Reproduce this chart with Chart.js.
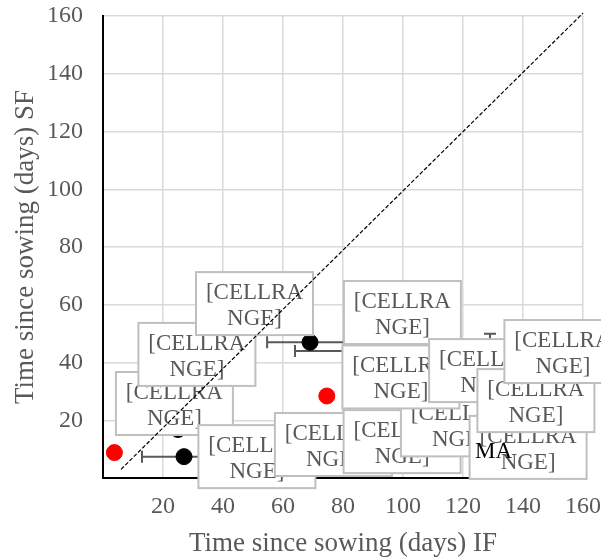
<!DOCTYPE html>
<html>
<head>
<meta charset="utf-8">
<script src="https://cdn.jsdelivr.net/npm/chart.js@4/dist/chart.umd.min.js"></script>
<style>
  html, body { margin: 0; padding: 0; background: #fff; }
  #wrap { width: 601px; height: 558px; }
</style>
</head>
<body>
<div id="wrap"><canvas id="chart" width="601" height="558"></canvas></div>
<script>
// black series (IF vs SF), with error bars
const blackX = [27, 25, 69, 84, 129];
const blackY = [7.4, 16.8, 47, 44, 40];
const blackXErr = [14, 0, 14.3, 20, 0];
const blackYErr = [0, 0, 0, 0, 10];

// red series
const redX = [3.8, 74.6];
const redY = [8.8, 28.4];

// 1:1 reference line
const refX = [6, 160];
const refY = [3, 161];

// data label boxes (centres in data units), drawn in this order
const labelX = [23.8, 31.3, 50.5, 51.3, 76.8, 99.7, 118.8, 141.7, 99.8, 99.3, 128.2, 144.3, 153.3];
const labelY = [25.8, 42.8, 60.4, 7.4, 11.6, 12.6, 18.4, 10.6, 57.3, 35.0, 37.2, 26.8, 43.8];
const labelText = ["[CELLRA", "NGE]"];
const extraText = "MA";
const extraX = 130.2;
const extraY = 9.0;

const axisTicks = [20, 40, 60, 80, 100, 120, 140, 160];

const FONT = "'Liberation Serif', 'Times New Roman', serif";
const GREY = "#595959";

const toPts = (xs, ys) => xs.map((x, i) => ({ x: x, y: ys[i] }));

const errorBars = {
    id: "errorBars",
    beforeDatasetsDraw(chart) {
        const ctx = chart.ctx;
        const xs = chart.scales.x, ys = chart.scales.y;
        ctx.save();
        ctx.strokeStyle = GREY;
        ctx.lineWidth = 2;
        const cap = 6;
        blackX.forEach((x, i) => {
            const py = ys.getPixelForValue(blackY[i]);
            const px = xs.getPixelForValue(x);
            if (blackXErr[i] > 0) {
                const l = xs.getPixelForValue(x - blackXErr[i]);
                const r = xs.getPixelForValue(x + blackXErr[i]);
                ctx.beginPath();
                ctx.moveTo(l, py); ctx.lineTo(r, py);
                ctx.moveTo(l, py - cap); ctx.lineTo(l, py + cap);
                ctx.moveTo(r, py - cap); ctx.lineTo(r, py + cap);
                ctx.stroke();
            }
            if (blackYErr[i] > 0) {
                const t = ys.getPixelForValue(blackY[i] + blackYErr[i]);
                const b = ys.getPixelForValue(blackY[i] - blackYErr[i]);
                ctx.beginPath();
                ctx.moveTo(px, t); ctx.lineTo(px, b);
                ctx.moveTo(px - cap, t); ctx.lineTo(px + cap, t);
                ctx.moveTo(px - cap, b); ctx.lineTo(px + cap, b);
                ctx.stroke();
            }
        });
        ctx.restore();
    }
};

// labels go above the markers but under the dashed 1:1 line
const cellLabels = {
    id: "cellLabels",
    beforeDatasetDraw(chart, args) {
        if (args.index !== 2) return;
        const ctx = chart.ctx;
        const xs = chart.scales.x, ys = chart.scales.y;
        const w = 117, h = 63;
        ctx.save();
        ctx.font = "23px " + FONT;
        ctx.textAlign = "center";
        ctx.textBaseline = "middle";
        labelX.forEach((x, i) => {
            const cx = xs.getPixelForValue(x);
            const cy = ys.getPixelForValue(labelY[i]);
            const left = cx - w / 2, top = cy - h / 2;
            ctx.fillStyle = "#fff";
            ctx.fillRect(left, top, w, h);
            ctx.strokeStyle = "#bfbfbf";
            ctx.lineWidth = 2;
            ctx.strokeRect(left, top, w, h);
            ctx.fillStyle = GREY;
            ctx.fillText(labelText[0], cx, top + 21);
            ctx.fillText(labelText[1], cx, top + 47);
        });
        ctx.fillStyle = "#000";
        ctx.fillText(extraText, xs.getPixelForValue(extraX), ys.getPixelForValue(extraY));
        ctx.restore();
    }
};

const tickCb = v => (v === 0 ? "" : v);
const noPad = s => { s.paddingTop = 0; s.paddingBottom = 0; s.paddingLeft = 0; s.paddingRight = 0; };

new Chart(document.getElementById("chart"), {
    type: "scatter",
    data: {
        datasets: [
            {
                label: "black",
                data: toPts(blackX, blackY),
                backgroundColor: "#000",
                borderColor: "#000",
                pointRadius: 8,
                borderWidth: 1,
                order: 2
            },
            {
                label: "red",
                data: toPts(redX, redY),
                backgroundColor: "#ff0000",
                borderColor: "#ff0000",
                pointRadius: 8,
                borderWidth: 1,
                order: 1
            },
            {
                type: "line",
                label: "1:1",
                data: toPts(refX, refY),
                borderColor: "#000",
                borderWidth: 1.2,
                borderDash: [4, 2],
                pointRadius: 0,
                fill: false,
                clip: false,
                order: 0
            }
        ]
    },
    options: {
        responsive: false,
        animation: false,
        devicePixelRatio: 1,
        layout: { padding: { top: 16, right: 18, left: 0, bottom: 0 } },
        plugins: {
            legend: { display: false },
            tooltip: { enabled: false }
        },
        scales: {
            x: {
                type: "linear",
                min: 0,
                max: 160,
                afterBuildTicks: s => { s.ticks = [0].concat(axisTicks).map(v => ({ value: v })); },
                afterFit: s => { s.height = 80; noPad(s); },
                ticks: {
                    callback: tickCb,
                    color: GREY,
                    font: { family: FONT, size: 24 },
                    padding: 14,
                    maxRotation: 0
                },
                grid: { color: "#d9d9d9", lineWidth: 1.5, drawTicks: false },
                border: { color: "#000", width: 2 },
                title: {
                    display: true,
                    text: "Time since sowing (days) IF",
                    color: GREY,
                    font: { family: FONT, size: 27 },
                    padding: { top: 0, bottom: -2 }
                }
            },
            y: {
                type: "linear",
                min: 0,
                max: 160,
                afterBuildTicks: s => { s.ticks = [0].concat(axisTicks).map(v => ({ value: v })); },
                afterFit: s => { s.width = 103; noPad(s); },
                ticks: {
                    callback: tickCb,
                    color: GREY,
                    font: { family: FONT, size: 24 },
                    padding: 20
                },
                grid: { color: "#d9d9d9", lineWidth: 1.5, drawTicks: false },
                border: { color: "#000", width: 2 },
                title: {
                    display: true,
                    text: "Time since sowing (days) SF",
                    color: GREY,
                    font: { family: FONT, size: 27 },
                    padding: { top: 10, bottom: 0 }
                }
            }
        }
    },
    plugins: [errorBars, cellLabels]
});
</script>
</body>
</html>
